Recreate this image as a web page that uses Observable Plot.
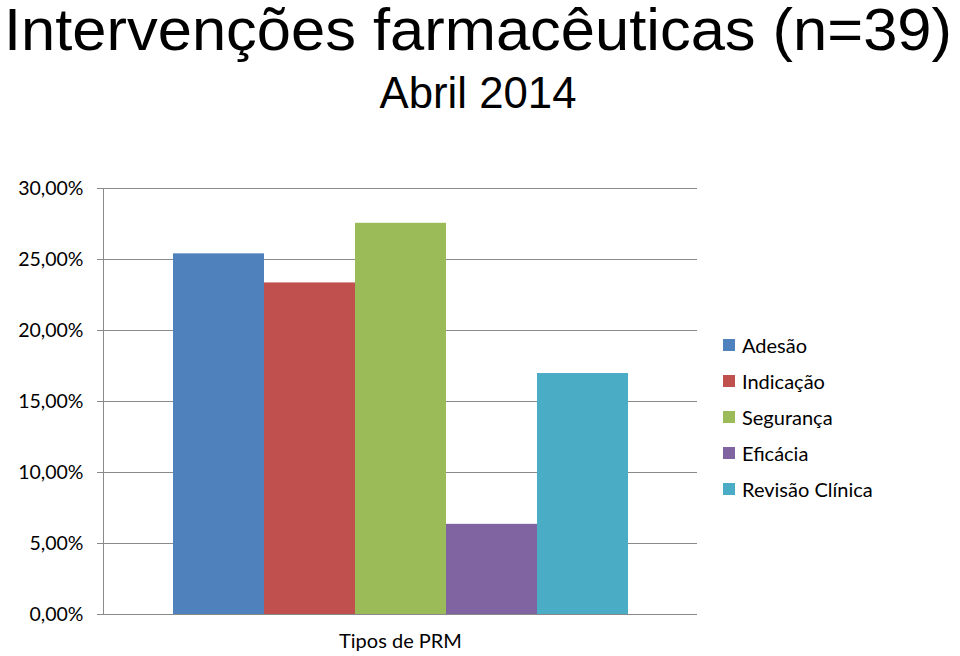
<!DOCTYPE html>
<html>
<head>
<meta charset="utf-8">
<script src="https://cdn.jsdelivr.net/npm/d3@7"></script>
<script src="https://cdn.jsdelivr.net/npm/@observablehq/plot@0.6"></script>
<style>
  html, body { margin: 0; padding: 0; background: #fff; }
  #wrap { position: relative; width: 960px; height: 656px; overflow: hidden; }
  #header { display: block; }
  #legend { position: absolute; left: 723px; top: 0; font-family: Lato, "Noto Sans", sans-serif; font-size: 20px; color: #000; }
  .row { position: absolute; left: 0; height: 36px; display: flex; align-items: center; white-space: nowrap; }
  .sw { width: 12px; height: 12px; margin-right: 7px; flex: none; }
</style>
</head>
<body>
<div id="wrap">
  <svg id="header" width="960" height="140"></svg>
  <div id="chart"></div>
  <div id="legend"></div>
</div>
<script>
const titulo = "Intervenções farmacêuticas (n=39)";
const subtitulo = "Abril 2014";
const eixoX = "Tipos de PRM";
const series = ["Adesão", "Indicação", "Segurança", "Eficácia", "Revisão Clínica"];
const valores = [25.4, 23.35, 27.55, 6.35, 16.97];
const cores = ["#4F81BD", "#C0504D", "#9BBB59", "#8064A2", "#4BACC6"];
const yTicks = [0, 5, 10, 15, 20, 25, 30];

const data = series.map((s, i) => ({serie: s, valor: valores[i]}));
const fmt = d => d.toFixed(2).replace(".", ",") + "%";

// header
const hdr = d3.select("#header");
hdr.append("text")
  .attr("x", 478).attr("y", 50)
  .attr("text-anchor", "middle")
  .attr("font-family", "'Liberation Sans', Arial, sans-serif")
  .attr("font-size", 60)
  .attr("textLength", 948).attr("lengthAdjust", "spacingAndGlyphs")
  .text(titulo);
hdr.append("text")
  .attr("x", 478).attr("y", 108)
  .attr("text-anchor", "middle")
  .attr("font-family", "'Liberation Sans', Arial, sans-serif")
  .attr("font-size", 45)
  .attr("textLength", 197).attr("lengthAdjust", "spacingAndGlyphs")
  .text(subtitulo);

const chart = Plot.plot({
  width: 960,
  height: 516,
  marginTop: 48,
  marginBottom: 42,
  marginLeft: 103,
  marginRight: 263,
  style: {fontFamily: "Lato, 'Noto Sans', sans-serif", fontSize: "19px", color: "#000", background: "#fff"},
  x: {type: "band", domain: series, paddingInner: 0, paddingOuter: 0.75, axis: null},
  y: {domain: [0, 30], axis: null},
  color: {domain: series, range: cores},
  marks: [
    Plot.ruleY(yTicks, {y: d => d, stroke: "#8a8a8a", strokeWidth: 1}),
    Plot.barY(data, {x: "serie", y: "valor", fill: "serie", inset: 0}),
    Plot.frame({anchor: "left", stroke: "#8a8a8a"}),
    Plot.axisY({ticks: yTicks, tickSize: 6, tickPadding: 14, tickFormat: fmt, stroke: "#8a8a8a", label: null, fontSize: 19.5}),
    Plot.text([eixoX], {frameAnchor: "bottom", dy: 27, lineAnchor: "middle", text: d => d, fontSize: 20, fill: "#000"})
  ]
});
document.getElementById("chart").appendChild(chart);

// legend
const leg = d3.select("#legend");
series.forEach((s, i) => {
  const r = leg.append("div").attr("class", "row").style("top", (327 + i * 36) + "px");
  r.append("div").attr("class", "sw").style("background", cores[i]);
  r.append("span").text(s);
});
</script>
</body>
</html>
